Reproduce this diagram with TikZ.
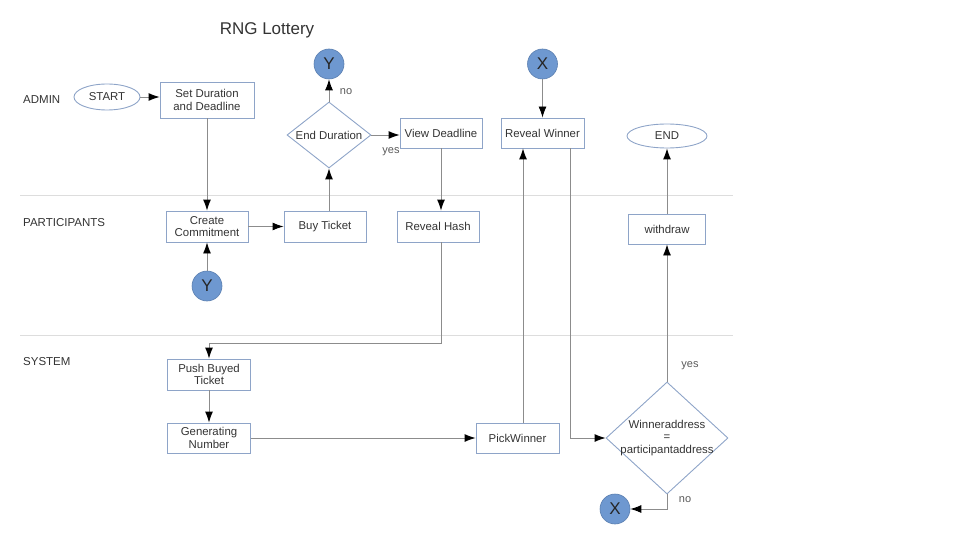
\documentclass[tikz,border=0pt]{standalone}
\usepackage{fontspec}
\setmainfont{Liberation Sans}
\usetikzlibrary{shapes.geometric,arrows.meta}

\definecolor{boxline}{HTML}{8EA4C8}
\definecolor{dotfill}{HTML}{6E98D0}
\definecolor{dotline}{HTML}{5B7FB0}
\definecolor{flowline}{HTML}{8C8C8C}
\definecolor{laneline}{HTML}{DDDDDD}
\definecolor{txt}{HTML}{333333}

\tikzset{
  every node/.style={font=\fontsize{11.4}{12.5}\selectfont, text=txt},
  process/.style={draw=boxline, line width=0.9pt, rectangle, align=center,
    minimum width=82pt, minimum height=31pt, inner sep=1pt},
  terminal/.style={draw=boxline, line width=0.9pt, ellipse, minimum width=66pt, minimum height=26pt},
  decision/.style={draw=boxline, line width=0.9pt, diamond, align=center,
    inner xsep=-14pt, inner ysep=-12pt},
  jump/.style={circle, fill=dotfill, draw=dotline, line width=0.6pt, minimum size=30pt,
    inner sep=0pt, font=\fontsize{17}{17}\selectfont, text=black!85},
  lane/.style={anchor=west, inner sep=0pt, font=\fontsize{11.5}{12}\selectfont},
  answer/.style={font=\fontsize{11}{12}\selectfont, text=black!65},
  flow/.style={draw=flowline, line width=0.9pt, -{Latex[length=11pt,width=8pt,color=black]}},
  swimline/.style={draw=laneline, line width=0.8pt},
}

\begin{document}
\begin{tikzpicture}[x=1pt,y=-1pt]
\useasboundingbox (0,0) rectangle (960,540);

\node[font=\fontsize{17}{20}\selectfont] (title) at (267,30) {RNG Lottery};

% lanes
\node[lane] (admin) at (23,100) {ADMIN};
\node[lane] (participants) at (23,223) {PARTICIPANTS};
\node[lane] (system) at (23,362) {SYSTEM};
\draw[swimline] (20,195) -- (733,195);
\draw[swimline] (20,335) -- (733,335);

% admin
\node[terminal] (start) at (107,97) {START};
\node[process, minimum width=94pt, minimum height=36pt] (setdur) at (207,100) {Set Duration\\and Deadline};
\node[decision, minimum width=84pt, minimum height=66pt] (enddur) at (329,135) {End Duration};
\node[jump] (yup) at (329,64) {Y};
\node[process, minimum height=30pt] (viewdl) at (441,133) {View Deadline};
\node[jump] (xup) at (542.5,64) {X};
\node[process, minimum width=83pt, minimum height=30pt] (revwin) at (542.5,133) {Reveal Winner};
\node[terminal, minimum width=80pt, minimum height=24pt] (endnode) at (667,136) {END};

% participants
\node[process] (commit) at (207,226.5) {Create\\Commitment};
\node[jump] (ylow) at (207,286) {Y};
\node[process] (buy) at (325,226.5) {Buy Ticket};
\node[process] (revhash) at (438,226.5) {Reveal Hash};
\node[process, minimum width=77pt, minimum height=30pt] (withdraw) at (667,229) {withdraw};

% system
\node[process, minimum width=83pt] (push) at (209,374.5) {Push Buyed\\Ticket};
\node[process, minimum width=83pt, minimum height=30pt] (gen) at (209,438) {Generating\\Number};
\node[process, minimum width=83pt, minimum height=30pt] (pick) at (517.5,438) {PickWinner};
\node[decision, minimum width=122pt, minimum height=112pt] (decide) at (667,438) {Winneraddress\\=\\participantaddress};
\node[jump] (xlow) at (615,509) {X};

% answers
\node[answer] (noend) at (346,92) {no};
\node[answer] (yesend) at (391,152) {yes};
\node[answer] (yeswin) at (690,366) {yes};
\node[answer] (nowin) at (685,500) {no};

% flow
\coordinate (hashturn) at (441,343);
\coordinate (pickup) at ([xshift=5.5pt]pick.north);
\coordinate (windown) at ([xshift=28pt]revwin.south);
\draw[flow] (start.east) -- (start.east -| setdur.west);
\draw[flow] (setdur) -- (commit);
\draw[flow] (ylow) -- (commit);
\draw[flow] (commit) -- (buy);
\draw[flow] (buy.north -| enddur.south) -- (enddur.south);
\draw[flow] (enddur) -- (yup);
\draw[flow] (enddur.east) -- (enddur.east -| viewdl.west);
\draw[flow] (viewdl.south) -- (viewdl.south |- revhash.north);
\draw[flow] (revhash.south -| hashturn) -- (hashturn) -| (push.north);
\draw[flow] (push) -- (gen);
\draw[flow] (gen) -- (pick);
\draw[flow] (pickup) -- (pickup |- revwin.south);
\draw[flow] (xup) -- (revwin);
\draw[flow] (windown) |- (decide.west);
\draw[flow] (decide) -- (withdraw);
\draw[flow] (withdraw) -- (endnode);
\draw[flow] (decide.south) |- (xlow.east);
\end{tikzpicture}
\end{document}
